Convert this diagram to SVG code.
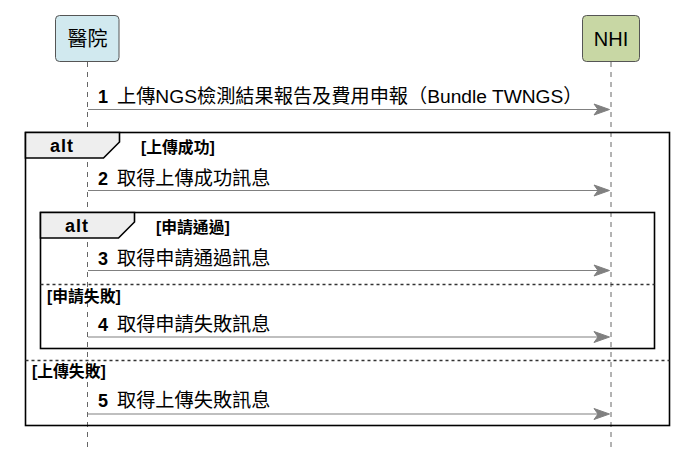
<svg xmlns="http://www.w3.org/2000/svg" width="693" height="460" viewBox="0 0 693 460">
<style>
text{font-family:"Liberation Sans","Noto Sans CJK TC",sans-serif;fill:#000}
.part{stroke:#555;stroke-width:1}
.life{stroke:#666;stroke-width:1;stroke-dasharray:5,5;fill:none}
.msg{stroke:#808080;stroke-width:1.2;fill:none}
.head{fill:#808080;stroke:#808080;stroke-width:1}
.frame{fill:none;stroke:#000;stroke-width:1.6}
.tab{fill:#eeeeee;stroke:#000;stroke-width:1.6}
.sep{stroke:#333;stroke-width:1.3;stroke-dasharray:3,3;fill:none}
.mt{font-size:19.2px}
.num{font-weight:bold;font-size:18px}
.alt{font-size:18px;font-weight:bold;letter-spacing:1px}
.guard{font-size:15.8px;font-weight:bold}
.pt{font-size:20px}
</style>
<g id="lifelines">
<line class="life" x1="87.5" y1="62" x2="87.5" y2="447"/>
<line class="life" x1="611" y1="62" x2="611" y2="447"/>
</g>
<g id="participant-hospital">
<rect class="part" x="55.5" y="15.5" width="63.5" height="46" rx="4" fill="#d1e9ef"/>
<text class="pt" x="87.5" y="46" text-anchor="middle">醫院</text>
</g>
<g id="participant-nhi">
<rect class="part" x="582.5" y="15.5" width="57" height="46" rx="4" fill="#c8d7a4"/>
<text class="pt" x="611" y="46" text-anchor="middle">NHI</text>
</g>
<g id="frame-outer">
<rect class="frame" x="25.5" y="132.5" width="644" height="293"/>
<polygon class="tab" points="25.5,132.5 119.5,132.5 119.5,142 103.5,158 25.5,158"/>
<text class="alt" x="62" y="152" text-anchor="middle">alt</text>
<text class="guard" x="141" y="153">[上傳成功]</text>
<line class="sep" x1="25.5" y1="360.5" x2="669.5" y2="360.5"/>
<text class="guard" x="32" y="377">[上傳失敗]</text>
</g>
<g id="frame-inner">
<rect class="frame" x="40.5" y="212.5" width="614" height="136"/>
<polygon class="tab" points="40.5,212.5 134.5,212.5 134.5,222 118.5,238 40.5,238"/>
<text class="alt" x="77" y="232" text-anchor="middle">alt</text>
<text class="guard" x="156" y="233">[申請通過]</text>
<line class="sep" x1="40.5" y1="284.5" x2="654.5" y2="284.5"/>
<text class="guard" x="47" y="302">[申請失敗]</text>
</g>
<g id="connectors">
<line class="msg" x1="88" y1="109.5" x2="600" y2="109.5"/>
<polygon class="head" points="609.5,109.5 594,104 598,109.5 594,115"/>
<line class="msg" x1="88" y1="190.5" x2="600" y2="190.5"/>
<polygon class="head" points="609.5,190.5 594,185 598,190.5 594,196"/>
<line class="msg" x1="88" y1="270.5" x2="600" y2="270.5"/>
<polygon class="head" points="609.5,270.5 594,265 598,270.5 594,276"/>
<line class="msg" x1="88" y1="337" x2="600" y2="337"/>
<polygon class="head" points="609.5,337 594,331.5 598,337 594,342.5"/>
<line class="msg" x1="88" y1="414" x2="600" y2="414"/>
<polygon class="head" points="609.5,414 594,408.5 598,414 594,419.5"/>
</g>
<g id="labels">
<text class="mt" y="103"><tspan class="num" x="98">1</tspan><tspan x="117">上傳NGS檢測結果報告及費用申報（Bundle TWNGS）</tspan></text>
<text class="mt" y="184.5"><tspan class="num" x="98">2</tspan><tspan x="117">取得上傳成功訊息</tspan></text>
<text class="mt" y="264.5"><tspan class="num" x="98">3</tspan><tspan x="117">取得申請通過訊息</tspan></text>
<text class="mt" y="330.5"><tspan class="num" x="98">4</tspan><tspan x="117">取得申請失敗訊息</tspan></text>
<text class="mt" y="407"><tspan class="num" x="98">5</tspan><tspan x="117">取得上傳失敗訊息</tspan></text>
</g>
</svg>
